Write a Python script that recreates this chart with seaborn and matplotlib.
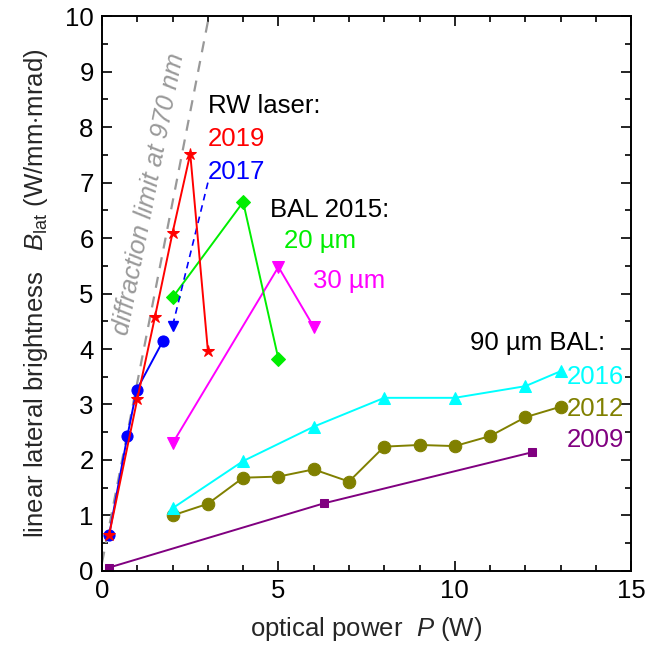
import matplotlib
matplotlib.use("Agg")
import matplotlib.pyplot as plt
import seaborn as sns
import numpy as np
import pandas as pd

# ---- data ----
rw2019_P = [0.2, 1.0, 1.5, 2.0, 2.5, 3.0]
rw2019_B = [0.65, 3.1, 4.58, 6.1, 7.52, 3.97]

rw2017_P = [0.2, 0.72, 0.98, 1.73]
rw2017_B = [0.65, 2.44, 3.26, 4.15]
rw2017_arrow_P = [3.0, 2.0]
rw2017_arrow_B = [7.0, 4.42]

bal20_P = [2.0, 4.0, 5.0]
bal20_B = [4.93, 6.65, 3.82]

bal30_P = [2.0, 5.0, 6.0]
bal30_B = [2.3, 5.48, 4.4]

bal90_2016_P = [2, 4, 6, 8, 10, 12, 13]
bal90_2016_B = [1.13, 1.98, 2.60, 3.12, 3.12, 3.33, 3.60]

bal90_2012_P = [2, 3, 4, 5, 6, 7, 8, 9, 10, 11, 12, 13]
bal90_2012_B = [1.0, 1.21, 1.68, 1.70, 1.83, 1.61, 2.24, 2.27, 2.25, 2.43, 2.77, 2.96]

bal90_2009_P = [0.2, 6.3, 12.2]
bal90_2009_B = [0.06, 1.22, 2.14]

diff_P = [0.0, 3.03]
diff_B = [0.15, 10.0]

# ---- style ----
sns.set_theme(style="ticks")
plt.rcParams['font.family'] = ['Liberation Sans', 'DejaVu Sans']
plt.rcParams['mathtext.fontset'] = 'custom'
plt.rcParams['mathtext.rm'] = 'Liberation Sans'
plt.rcParams['mathtext.it'] = 'Liberation Sans:italic'
FS = 18.5

fig = plt.figure(figsize=(6.46, 6.48), dpi=100)
ax = fig.add_axes([0.158, 0.119, 0.819, 0.856])

lw = 1.4
# diffraction limit
sns.lineplot(x=diff_P, y=diff_B, ax=ax, color='#999999', linewidth=1.6,
             dashes=False, linestyle=(0, (5, 4)), sort=False)

sns.lineplot(x=bal90_2009_P, y=bal90_2009_B, ax=ax, color='#800080', lw=lw,
             marker='s', markersize=6, markeredgecolor='#800080', sort=False)
sns.lineplot(x=bal90_2012_P, y=bal90_2012_B, ax=ax, color='#808000', lw=lw,
             marker='o', markersize=9, markeredgecolor='#808000', sort=False)
sns.lineplot(x=bal90_2016_P, y=bal90_2016_B, ax=ax, color='#00ffff', lw=lw,
             marker='^', markersize=9, markeredgecolor='#00ffff', sort=False)
sns.lineplot(x=bal30_P, y=bal30_B, ax=ax, color='#ff00ff', lw=lw,
             marker='v', markersize=9, markeredgecolor='#ff00ff', sort=False)
sns.lineplot(x=bal20_P, y=bal20_B, ax=ax, color='#00ee00', lw=lw,
             marker='D', markersize=7, markeredgecolor='#00ee00', sort=False)
sns.lineplot(x=rw2017_P, y=rw2017_B, ax=ax, color='#0000ff', lw=lw,
             marker='o', markersize=8, markeredgecolor='#0000ff', sort=False)
ax.plot(rw2017_arrow_P, rw2017_arrow_B, color='#0000ff', lw=1.2,
        linestyle=(0, (4, 3)), marker='v', markersize=7, markevery=[1])
sns.lineplot(x=rw2019_P, y=rw2019_B, ax=ax, color='#ff0000', lw=lw,
             marker='*', markersize=9, markeredgecolor='#ff0000',
             markerfacecolor='#ff0000', sort=False)

ax.set_xlim(0, 15)
ax.set_ylim(0, 10)
ax.set_xticks([0, 5, 10, 15])
ax.set_xticks(np.arange(0, 16, 1), minor=True)
ax.set_yticks(np.arange(0, 11, 1))
ax.set_yticks(np.arange(0, 10.5, 0.5), minor=True)
ax.tick_params(which='both', direction='in', top=True, right=True,
               labelsize=FS, colors='black', width=1.2)
ax.tick_params(which='major', length=7, pad=6)
ax.tick_params(which='minor', length=4)
for s in ax.spines.values():
    s.set_linewidth(1.4)
    s.set_color('black')

ax.set_xlabel(r'optical power  $P$ (W)', fontsize=FS)
ax.set_ylabel(r'linear lateral brightness   $B_{\rm lat}$ (W/mm$\cdot$mrad)',
              fontsize=FS)
ax.xaxis.set_label_coords(0.5, -0.079)
ax.yaxis.set_label_coords(-0.099, 0.5)

# annotations
ax.text(1.33, 6.79, 'diffraction limit at 970 nm', rotation=78.8,
        rotation_mode='anchor', ha='center', va='center',
        fontsize=FS, style='italic', color='#999999')
ax.text(3.0, 8.38, 'RW laser:', fontsize=FS, color='black', va='center')
ax.text(3.0, 7.78, '2019', fontsize=FS, color='#ff0000', va='center')
ax.text(3.0, 7.19, '2017', fontsize=FS, color='#0000ff', va='center')
ax.text(4.75, 6.50, 'BAL 2015:', fontsize=FS, color='black', va='center')
ax.text(5.17, 5.95, '20 µm', fontsize=FS, color='#00ee00', va='center')
ax.text(5.97, 5.22, '30 µm', fontsize=FS, color='#ff00ff', va='center')
ax.text(10.43, 4.10, '90 µm BAL:', fontsize=FS, color='black', va='center')
ax.text(13.17, 3.50, '2016', fontsize=FS, color='#00ffff', va='center')
ax.text(13.17, 2.92, '2012', fontsize=FS, color='#808000', va='center')
ax.text(13.17, 2.36, '2009', fontsize=FS, color='#800080', va='center')

fig.savefig('out.png', dpi=100)
